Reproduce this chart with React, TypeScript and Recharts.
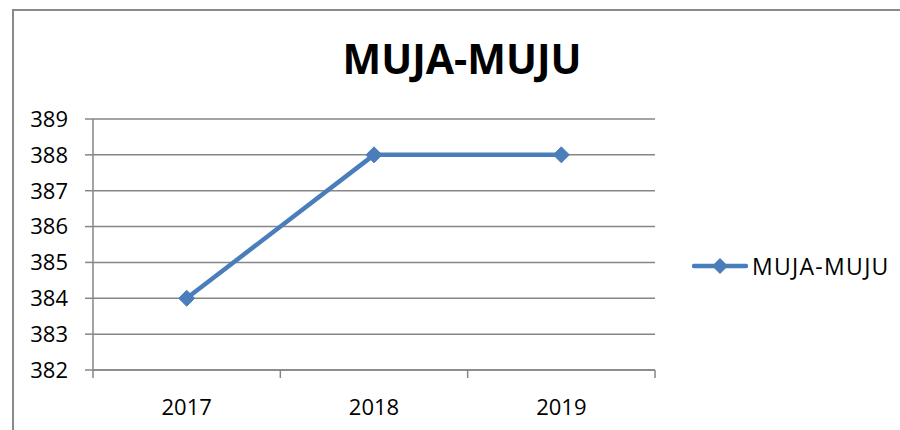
import React from 'react';
import { LineChart, Line, XAxis, YAxis, CartesianGrid, Legend } from 'recharts';

const years = ['2017', '2018', '2019'];
const values = [384, 388, 388];
const yTicks = [382, 383, 384, 385, 386, 387, 388, 389];
const seriesName = 'MUJA-MUJU';
const chartTitle = 'MUJA-MUJU';

const data = years.map((y, i) => ({ year: y, v: values[i] }));

const COLOR = '#4A7EBB';
const GRID = '#868686';
const FONT = '"Open Sans", "Noto Sans", sans-serif';

const PLOT_LEFT = 93;
const PLOT_RIGHT = 655;
const HALF_BAND = (PLOT_RIGHT - PLOT_LEFT) / years.length / 2;

const Diamond = (props: any) => {
  const { cx, cy } = props;
  if (cx == null || cy == null) return null;
  const r = 8;
  return (
    <path
      d={`M${cx},${cy - r} L${cx + r},${cy} L${cx},${cy + r} L${cx - r},${cy} Z`}
      fill={COLOR}
      stroke={COLOR}
      strokeWidth={1}
    />
  );
};

const XTick = (props: any) => {
  const { x, y, payload, index } = props;
  const last = index === years.length - 1;
  return (
    <g>
      <line x1={x - HALF_BAND} y1={y - 8} x2={x - HALF_BAND} y2={y} stroke={GRID} strokeWidth={1.5} />
      {last && (
        <line x1={x + HALF_BAND} y1={y - 8} x2={x + HALF_BAND} y2={y} stroke={GRID} strokeWidth={1.5} />
      )}
      <text x={x} y={y + 37} textAnchor="middle" fontSize={22} fontFamily={FONT} fill="#000">
        {payload.value}
      </text>
    </g>
  );
};

const LegendContent = () => (
  <div style={{ display: 'flex', alignItems: 'center', fontFamily: FONT, fontSize: 23, letterSpacing: 1.3, color: '#000', whiteSpace: 'nowrap' }}>
    <svg width={56} height={20} style={{ marginRight: 4 }}>
      <line x1={2} y1={10} x2={54} y2={10} stroke={COLOR} strokeWidth={4.5} strokeLinecap="round" />
      <path d="M28,2 L36,10 L28,18 L20,10 Z" fill={COLOR} />
    </svg>
    <span>{seriesName}</span>
  </div>
);

export default function App() {
  return (
    <div style={{ position: 'absolute', left: 0, top: 0, width: 900, height: 430, background: '#fff', overflow: 'hidden' }}>
      <div
        style={{
          position: 'absolute',
          left: 12,
          top: 9,
          width: 900,
          height: 430,
          border: '2px solid #8a8a8a',
          boxSizing: 'border-box',
        }}
      />
      <div
        style={{
          position: 'absolute',
          left: 0,
          width: 924,
          top: 28,
          textAlign: 'center',
          fontFamily: FONT,
          fontWeight: 700,
          fontSize: 41,
          color: '#000',
          lineHeight: '60px',
        }}
      >
        {chartTitle}
      </div>
      <div style={{ position: 'absolute', left: 0, top: 0 }}>
        <LineChart width={900} height={430} data={data} margin={{ top: 119, right: 900 - PLOT_RIGHT, bottom: 0, left: 0 }}>
          <CartesianGrid vertical={false} stroke={GRID} strokeWidth={1.5} />
          <XAxis
            dataKey="year"
            height={60}
            padding={{ left: HALF_BAND, right: HALF_BAND }}
            axisLine={{ stroke: GRID, strokeWidth: 1.5 }}
            tickLine={false}
            tick={<XTick />}
            interval={0}
          />
          <YAxis
            width={PLOT_LEFT}
            domain={[382, 389]}
            ticks={yTicks}
            interval={0}
            axisLine={{ stroke: GRID, strokeWidth: 1.5 }}
            tickLine={{ stroke: GRID, strokeWidth: 1.5 }}
            tickSize={8}
            tickMargin={17}
            tick={{ fontSize: 22, fontFamily: FONT, fill: '#000' }}
          />
          <Legend
            layout="vertical"
            align="center"
            verticalAlign="middle"
            content={<LegendContent />}
            wrapperStyle={{ left: 692, top: 250, width: 'auto', height: 'auto' }}
          />
          <Line
            type="linear"
            dataKey="v"
            name={seriesName}
            stroke={COLOR}
            strokeWidth={4.5}
            dot={<Diamond />}
            activeDot={false}
            isAnimationActive={false}
          />
        </LineChart>
      </div>
    </div>
  );
}
